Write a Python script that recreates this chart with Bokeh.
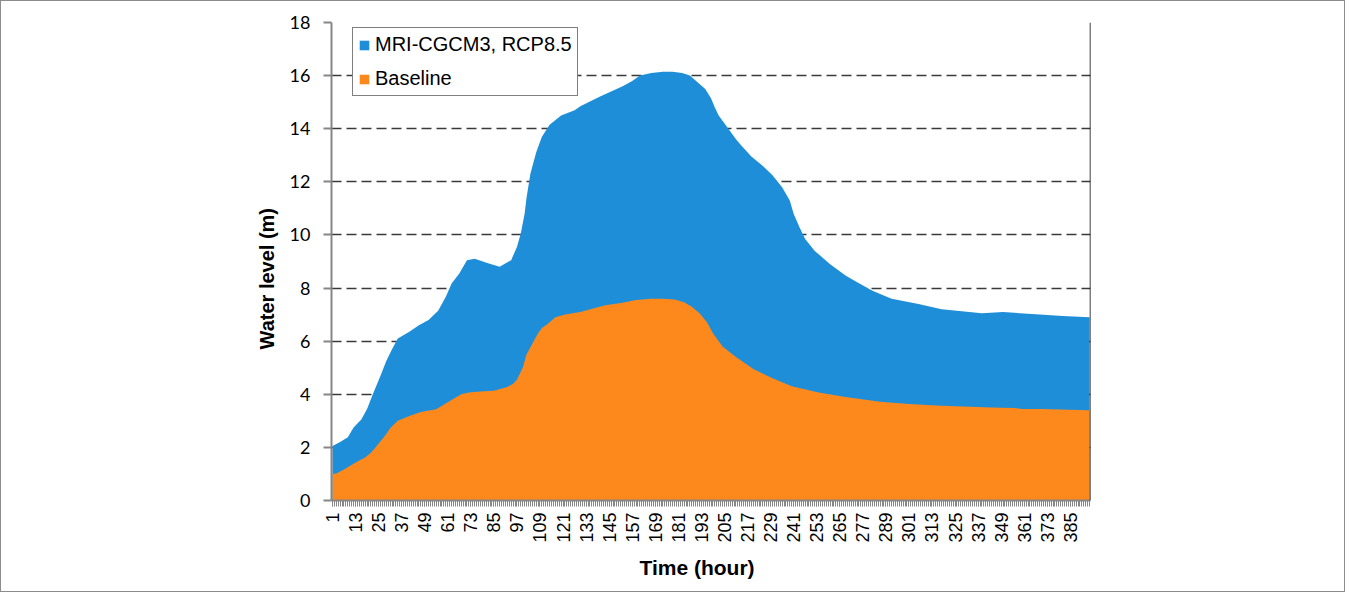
import math
from bokeh.plotting import figure
from bokeh.models import FixedTicker, Range1d, Span, Legend, LegendItem, Title
from bokeh.embed import file_html
from bokeh.resources import INLINE

# ---- data ----
mri_hours = [1, 5, 9, 12, 16, 19, 22, 26, 29, 32, 35, 41, 46, 51, 56, 60, 63, 67, 71, 75, 82,
             88, 94, 97, 99, 101, 102, 104, 107, 110, 114, 120, 127, 130, 140, 146, 152, 157,
             161, 167, 173, 178, 183, 187, 191, 195, 198, 200, 202, 206, 211, 214, 219, 225,
             230, 235, 239, 241, 244, 247, 252, 260, 268, 272, 282, 292, 306, 318, 339, 350,
             365, 381, 395]
mri_level = [2.05, 2.2, 2.38, 2.75, 3.05, 3.45, 4.0, 4.7, 5.25, 5.7, 6.1, 6.35, 6.6, 6.8, 7.15,
             7.67, 8.17, 8.55, 9.05, 9.1, 8.93, 8.8, 9.05, 9.55, 10.05, 10.8, 11.4, 12.3, 13.1,
             13.7, 14.15, 14.5, 14.7, 14.85, 15.2, 15.4, 15.6, 15.8, 16.0, 16.1, 16.15, 16.15,
             16.1, 16.0, 15.75, 15.5, 15.15, 14.8, 14.5, 14.1, 13.6, 13.35, 12.95, 12.6, 12.25,
             11.8, 11.3, 10.8, 10.3, 9.85, 9.4, 8.9, 8.47, 8.3, 7.9, 7.6, 7.4, 7.2, 7.05, 7.1,
             7.02, 6.95, 6.9]

base_hours = [1, 3, 7, 10, 14, 18, 21, 24, 26, 29, 31, 35, 41, 47, 55, 61, 68, 72, 78, 85, 92,
              95, 97, 100, 102, 105, 108, 110, 113, 117, 122, 130, 143, 152, 159, 167, 173, 179,
              184, 188, 192, 196, 199, 204, 211, 220, 230, 240, 254, 268, 286, 301, 318, 344,
              356, 360, 370, 395]
base_level = [1.0, 1.02, 1.17, 1.3, 1.47, 1.62, 1.8, 2.05, 2.23, 2.5, 2.72, 3.0, 3.18, 3.33,
              3.44, 3.7, 4.0, 4.07, 4.1, 4.13, 4.27, 4.4, 4.55, 5.0, 5.5, 5.9, 6.3, 6.5, 6.65,
              6.9, 7.0, 7.1, 7.35, 7.45, 7.55, 7.6, 7.6, 7.57, 7.47, 7.3, 7.05, 6.7, 6.3, 5.8,
              5.4, 4.95, 4.6, 4.3, 4.07, 3.9, 3.72, 3.63, 3.57, 3.5, 3.48, 3.45, 3.45, 3.4]

x_tick_labels = [1, 13, 25, 37, 49, 61, 73, 85, 97, 109, 121, 133, 145, 157, 169, 181, 193, 205,
                 217, 229, 241, 253, 265, 277, 289, 301, 313, 325, 337, 349, 361, 373, 385]
y_ticks = [0, 2, 4, 6, 8, 10, 12, 14, 16, 18]
n_hours = 395

BLUE = "#1f8ed8"
ORANGE = "#fd891c"
AXIS_GRAY = "#868686"

p = figure(width=1345, height=592, output_backend="svg", toolbar_location=None,
           x_range=Range1d(0.5, n_hours + 0.5), y_range=Range1d(0, 18),
           min_border_left=330, min_border_right=256, min_border_top=21, min_border_bottom=93,
           styles={"border": "1px solid #8c8c8c"})
p.outline_line_color = None
p.background_fill_color = "white"

rb = p.varea(x=mri_hours, y1=0, y2=mri_level, fill_color=BLUE, fill_alpha=1.0)
ro = p.varea(x=base_hours, y1=0, y2=base_level, fill_color=ORANGE, fill_alpha=1.0)

# grid
p.xgrid.visible = False
p.ygrid.grid_line_color = "#3a3a3a"
p.ygrid.grid_line_dash = "10 5"
p.ygrid.grid_line_width = 1.5
p.ygrid.level = "underlay"

# y axis
p.yaxis.ticker = FixedTicker(ticks=y_ticks)
p.yaxis.axis_line_color = AXIS_GRAY
p.yaxis.axis_line_width = 2
p.yaxis.major_tick_line_color = AXIS_GRAY
p.yaxis.major_tick_line_width = 2
p.yaxis.major_tick_out = 8
p.yaxis.major_tick_in = 0
p.yaxis.minor_tick_line_color = None
p.yaxis.major_label_text_font = "Lato"
p.yaxis.major_label_text_font_size = "18px"
p.yaxis.major_label_text_color = "black"
p.yaxis.major_label_standoff = 13

# x axis
p.xaxis.ticker = FixedTicker(ticks=x_tick_labels, minor_ticks=list(range(1, n_hours + 1)))
p.xaxis.axis_line_color = AXIS_GRAY
p.xaxis.axis_line_width = 2
p.xaxis.major_tick_line_color = AXIS_GRAY
p.xaxis.minor_tick_line_color = AXIS_GRAY
p.xaxis.major_tick_out = 6
p.xaxis.major_tick_in = 0
p.xaxis.minor_tick_out = 6
p.xaxis.minor_tick_in = 0
p.xaxis.major_label_orientation = math.pi / 2
p.xaxis.major_label_text_font = "Liberation Sans"
p.xaxis.major_label_text_font_size = "18px"
p.xaxis.major_label_text_color = "black"
p.xaxis.major_label_standoff = 6

# axis titles as side titles (offset like the reference)
p.add_layout(Title(text="Time (hour)", align="left", offset=308, standoff=17,
                   text_font="Liberation Sans", text_font_style="bold",
                   text_font_size="21px", text_color="black"), "below")
p.add_layout(Title(text="Water level (m)", align="left", offset=151, standoff=18,
                   text_font="Liberation Sans", text_font_style="bold",
                   text_font_size="20px", text_color="black"), "left")

# right frame border
p.add_layout(Span(location=n_hours + 0.5, dimension="height", line_color="black", line_width=1.5))

legend = Legend(items=[LegendItem(label="MRI-CGCM3, RCP8.5", renderers=[rb]),
                       LegendItem(label="Baseline", renderers=[ro])],
                location=(21, 404))
legend.border_line_color = "black"
legend.border_line_width = 1.5
legend.background_fill_color = "white"
legend.background_fill_alpha = 1.0
legend.label_text_font = "Liberation Sans"
legend.label_text_font_size = "20px"
legend.label_text_color = "black"
legend.glyph_width = 12
legend.glyph_height = 12
legend.label_height = 20
legend.label_standoff = 5
legend.padding = 5
legend.spacing = 11
legend.margin = 0
p.add_layout(legend)

open("out.html", "w").write(file_html(p, INLINE))
